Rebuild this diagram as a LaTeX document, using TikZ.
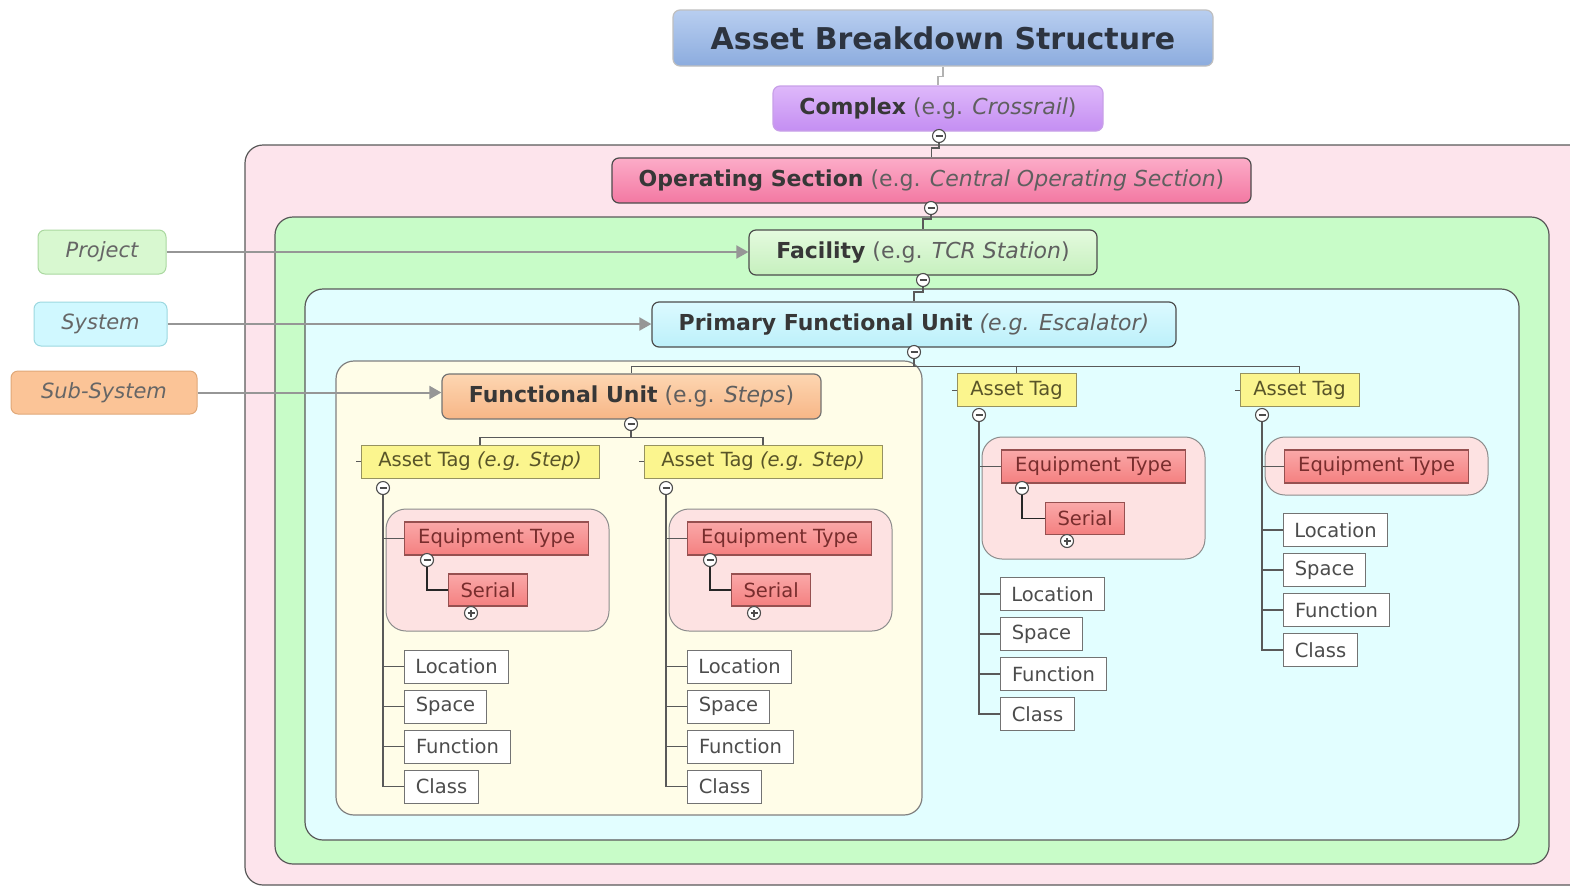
\documentclass[tikz,border=0pt]{standalone}
\usepackage{fontspec}
\setmainfont{DejaVu Sans}
\usepackage{tikz}
\usetikzlibrary{calc}
\usetikzlibrary{arrows.meta}
\usetikzlibrary{positioning}
\definecolor{outerpink}{RGB}{253, 228, 236}
\definecolor{facgreen}{RGB}{200, 252, 200}
\definecolor{pfucyan}{RGB}{226, 254, 255}
\definecolor{fucream}{RGB}{255, 253, 232}
\definecolor{grppink}{RGB}{253, 226, 226}
\definecolor{tagfill}{RGB}{251, 245, 142}
\definecolor{tagline}{RGB}{150, 146, 96}
\definecolor{tagtext}{RGB}{88, 84, 40}
\definecolor{eqtop}{RGB}{250, 168, 168}
\definecolor{eqbot}{RGB}{244, 128, 128}
\definecolor{eqline}{RGB}{150, 80, 80}
\definecolor{eqtext}{RGB}{120, 45, 45}
\definecolor{txtdark}{RGB}{55, 55, 55}
\definecolor{egtext}{RGB}{95, 95, 95}
\definecolor{feedgray}{RGB}{150, 150, 150}
\newcommand{\egnote}[1]{{\color{egtext}#1}}

\tikzset{
  frame/.style={draw=black!65, line width=1.2pt, rounded corners=18pt},
  grp/.style={draw=black!45, fill=grppink, line width=1pt, rounded corners=20pt},
  head/.style={draw=black!70, line width=1.2pt, rounded corners=7pt, inner sep=0pt,
               text=txtdark, font=\fontsize{22}{26}\selectfont, minimum height=45pt},
  side/.style={line width=1pt, rounded corners=7pt, inner sep=0pt, text=black!60,
               font=\fontsize{21}{25}\selectfont\itshape, minimum height=44pt},
  tag/.style={draw=tagline, fill=tagfill, line width=1pt, inner sep=0pt, text=tagtext,
              font=\fontsize{19.5}{23}\selectfont, minimum height=33pt},
  equip/.style={draw=eqline, top color=eqtop, bottom color=eqbot, line width=1.2pt, inner sep=0pt,
                text=eqtext, font=\fontsize{19.5}{23}\selectfont, minimum height=33pt},
  leaf/.style={draw=black!55, fill=white, line width=1pt, inner sep=0pt, text=black!70,
               font=\fontsize{19.5}{23}\selectfont, minimum height=33pt},
  branch/.style={draw=black!65, line width=1.6pt},
  feed/.style={draw=feedgray, line width=2pt, -{Triangle[length=12pt,width=13pt]}},
  toggle/.style={circle, draw=black!70, fill=white, line width=1.1pt, inner sep=0pt, minimum size=13pt,
                 path picture={\draw[line width=1.6pt] ([xshift=-3.5pt]path picture bounding box.center)
                                 -- ([xshift=3.5pt]path picture bounding box.center);}},
  togplus/.style={toggle,
                 path picture={\draw[line width=1.6pt] ([xshift=-3.5pt]path picture bounding box.center)
                                 -- ([xshift=3.5pt]path picture bounding box.center)
                               ([yshift=-3.5pt]path picture bounding box.center)
                                 -- ([yshift=3.5pt]path picture bounding box.center);}}
}

\begin{document}
\begin{tikzpicture}[x=1pt, y=-1pt]
  \useasboundingbox (0,0) rectangle (1570,887);
  % Nested scopes
  \draw[frame, fill=outerpink] (245,145) rectangle (1600,885);
  \draw[frame, fill=facgreen]  (275,217) rectangle (1549,864);
  \draw[frame, fill=pfucyan]   (305,289) rectangle (1519,840);
  \draw[frame, fill=fucream, draw=black!50] (336,361) rectangle (922,815);
  % Equipment groups
  \draw[grp] (386,509) rectangle (609,631);
  \draw[grp] (669,509) rectangle (892,631);
  \draw[grp] (982,437) rectangle (1205,559);
  \draw[grp] (1265,437) rectangle (1488,495);

  % Main chain
  \node[head, draw=black!25, top color={rgb,255:red,184;green,206;blue,240}, bottom color={rgb,255:red,140;green,172;blue,222},
        minimum width=540pt, minimum height=56pt, font=\fontsize{30}{34}\selectfont\bfseries, text={rgb,255:red,45;green,52;blue,64}]
        (title) at (943,38) {Asset Breakdown Structure};
  \node[head, draw={rgb,255:red,200;green,160;blue,232}, top color={rgb,255:red,222;green,184;blue,250}, bottom color={rgb,255:red,196;green,142;blue,242},
        minimum width=330pt] (CX) at (938,108.5) {\textbf{Complex} \egnote{(e.g. \textit{Crossrail})}};
  \node[toggle] (tCX) at (939,136) {};
  \node[head, top color={rgb,255:red,252;green,172;blue,200}, bottom color={rgb,255:red,243;green,120;blue,162},
        minimum width=639pt] (OS) at (931.5,180.5) {\textbf{Operating Section} \egnote{(e.g. \textit{Central Operating Section})}};
  \node[toggle] (tOS) at (931,208) {};
  \node[head, top color={rgb,255:red,228;green,250;blue,222}, bottom color={rgb,255:red,198;green,240;blue,190},
        minimum width=348pt] (FAC) at (923,252.5) {\textbf{Facility} \egnote{(e.g. \textit{TCR Station})}};
  \node[toggle] (tFAC) at (923,280) {};
  \node[head, top color={rgb,255:red,220;green,250;blue,255}, bottom color={rgb,255:red,188;green,240;blue,250},
        minimum width=524pt] (PFU) at (914,324.5) {\textbf{Primary Functional Unit} \egnote{\textit{(e.g. Escalator)}}};
  \node[toggle] (tPFU) at (914,352) {};
  \node[head, draw=black!55, top color={rgb,255:red,253;green,214;blue,178}, bottom color={rgb,255:red,247;green,182;blue,134},
        minimum width=379pt] (FU) at (631.5,396.5) {\textbf{Functional Unit} \egnote{(e.g. \textit{Steps})}};
  \node[toggle] (tFU) at (631,424) {};

  % Asset tags
  \node[tag, minimum width=238pt] (AT1) at (480,461.5)    {Asset Tag \textit{(e.g. Step)}};
  \node[tag, minimum width=238pt] (AT2) at (763,461.5)    {Asset Tag \textit{(e.g. Step)}};
  \node[tag, minimum width=119pt] (AT3) at (1016.5,390)   {Asset Tag};
  \node[tag, minimum width=119pt] (AT4) at (1299.5,390)   {Asset Tag};
  \node[toggle] (tAT1) at (383,488) {};
  \node[toggle] (tAT2) at (666,488) {};
  \node[toggle] (tAT3) at (979,415) {};
  \node[toggle] (tAT4) at (1262,415) {};

  % Equipment types and serials
  \node[equip, anchor=west, minimum width=184pt] (EQ1) at (404,538.5)  {Equipment Type};
  \node[equip, anchor=west, minimum width=184pt] (EQ2) at (687,538.5)  {Equipment Type};
  \node[equip, anchor=west, minimum width=184pt] (EQ3) at (1001,466.5) {Equipment Type};
  \node[equip, anchor=west, minimum width=184pt] (EQ4) at (1284,466.5) {Equipment Type};
  \node[toggle] (tEQ1) at (427,560)  {};
  \node[toggle] (tEQ2) at (710,560)  {};
  \node[toggle] (tEQ3) at (1022,488) {};
  \node[equip, anchor=west, minimum width=79pt, minimum height=32pt] (SER1) at (448,590)    {Serial};
  \node[equip, anchor=west, minimum width=79pt, minimum height=32pt] (SER2) at (731,590)    {Serial};
  \node[equip, anchor=west, minimum width=79pt, minimum height=32pt] (SER3) at (1045,518.5) {Serial};
  \node[togplus] (pSER1) at (471,613)  {};
  \node[togplus] (pSER2) at (754,613)  {};
  \node[togplus] (pSER3) at (1067,541) {};

  % Tree connectors
  \draw[draw=black!30, line width=1.5pt] (title.south) -- ++(0,10) -| (CX.north);
  \draw[branch] (tCX.south)  -- ++(0,5) -| (OS.north);
  \draw[branch] (tOS.south)  -- ++(0,4) -| (FAC.north);
  \draw[branch] (tFAC.south) -- ++(0,5) -| (PFU.north);
  \draw[branch, line width=1.2pt] (tPFU.south) -- ++(0,7.5) -| (FU.north);
  \draw[branch, line width=1.2pt] (tPFU.south) -- ++(0,7.5) -| (AT3.north);
  \draw[branch, line width=1.2pt] (tPFU.south) -- ++(0,7.5) -| (AT4.north);
  \draw[branch, line width=1.2pt] (tFU.south)  -- ++(0,6.5) -| (AT1.north);
  \draw[branch, line width=1.2pt] (tFU.south)  -- ++(0,6.5) -| (AT2.north);
  \foreach \k in {1,2,3,4} {
    \draw[branch, line width=1pt] (AT\k.west) -- ++(-5,0);
    \draw[branch] (tAT\k.south |- EQ\k.west) -- (EQ\k.west);
  }
  \foreach \k in {1,2,3}
    \draw[branch, draw=black!85] (tEQ\k.south) |- (SER\k.west);

  % Attribute leaves
  \foreach \k/\sx/\ly in {1/383/666.5, 2/666/666.5, 3/979/594, 4/1262/530} {
    \node[leaf, anchor=west, minimum width=104pt] (loc\k) at (\sx+21,\ly)     {Location};
    \node[leaf, anchor=west, minimum width=82pt]  (spc\k) at (\sx+21,\ly+40)  {Space};
    \node[leaf, anchor=west, minimum width=106pt] (fun\k) at (\sx+21,\ly+80)  {Function};
    \node[leaf, anchor=west, minimum width=74pt]  (cls\k) at (\sx+21,\ly+120) {Class};
    \draw[branch] (tAT\k.south) |- (cls\k.west);
    \foreach \n in {loc,spc,fun}
      \draw[branch] (tAT\k.south |- \n\k.west) -- (\n\k.west);
  }

  % Side labels
  \node[side, draw={rgb,255:red,170;green,216;blue,160}, fill={rgb,255:red,216;green,248;blue,208},
        minimum width=128pt] (prj) at (102,252)   {Project};
  \node[side, draw={rgb,255:red,156;green,216;blue,224}, fill={rgb,255:red,208;green,248;blue,255},
        minimum width=133pt] (sys) at (100.5,324) {System};
  \node[side, draw={rgb,255:red,224;green,168;blue,120}, fill={rgb,255:red,251;green,196;blue,151},
        minimum width=186pt, minimum height=43pt] (sub) at (104,392.5) {Sub-System};
  \draw[feed] (prj.east) -- (prj.east -| FAC.west);
  \draw[feed] (sys.east) -- (sys.east -| PFU.west);
  \draw[feed] (sub.east) -- (sub.east -| FU.west);
\end{tikzpicture}
\end{document}
